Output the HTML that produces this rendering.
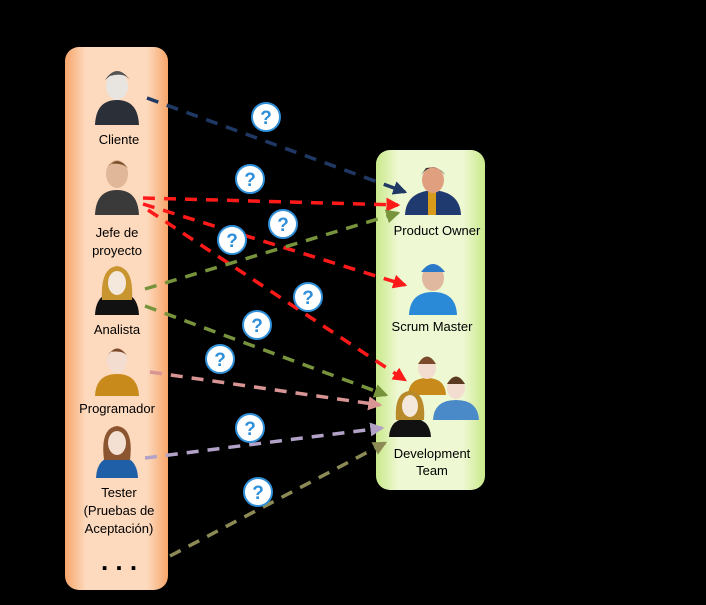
<!DOCTYPE html>
<html><head><style>
body{margin:0;background:#000;}
svg text{font-family:"Liberation Sans",sans-serif;}
</style></head><body>
<svg width="706" height="600" viewBox="0 0 706 600" xmlns="http://www.w3.org/2000/svg">
<defs>
<linearGradient id="lg" x1="0" x2="1"><stop offset="0" stop-color="#f7a56a"/><stop offset="0.2" stop-color="#fdd9bd"/><stop offset="0.8" stop-color="#fdd9bd"/><stop offset="1" stop-color="#f7a56a"/></linearGradient>
<linearGradient id="gg" x1="0" x2="1"><stop offset="0" stop-color="#c9e98a"/><stop offset="0.2" stop-color="#eef8d2"/><stop offset="0.8" stop-color="#eef8d2"/><stop offset="1" stop-color="#c9e98a"/></linearGradient>
<marker id="a1" viewBox="0 0 6 6" markerWidth="4" markerHeight="4" refX="5" refY="3" orient="auto" markerUnits="strokeWidth"><path d="M0,0L6,3L0,6z" fill="#1f3864"/></marker>
<marker id="a2" viewBox="0 0 6 6" markerWidth="4" markerHeight="4" refX="5" refY="3" orient="auto" markerUnits="strokeWidth"><path d="M0,0L6,3L0,6z" fill="#ff1a1a"/></marker>
<marker id="a3" viewBox="0 0 6 6" markerWidth="4" markerHeight="4" refX="5" refY="3" orient="auto" markerUnits="strokeWidth"><path d="M0,0L6,3L0,6z" fill="#77933c"/></marker>
<marker id="a4" viewBox="0 0 6 6" markerWidth="4" markerHeight="4" refX="5" refY="3" orient="auto" markerUnits="strokeWidth"><path d="M0,0L6,3L0,6z" fill="#d99594"/></marker>
<marker id="a5" viewBox="0 0 6 6" markerWidth="4" markerHeight="4" refX="5" refY="3" orient="auto" markerUnits="strokeWidth"><path d="M0,0L6,3L0,6z" fill="#b3a2c7"/></marker>
<marker id="a6" viewBox="0 0 6 6" markerWidth="4" markerHeight="4" refX="5" refY="3" orient="auto" markerUnits="strokeWidth"><path d="M0,0L6,3L0,6z" fill="#8c8a55"/></marker>
</defs>
<rect x="65" y="47" width="103" height="543" rx="14" fill="url(#lg)"/>
<rect x="376" y="150" width="109" height="340" rx="14" fill="url(#gg)"/>
<g fill="none" stroke-width="3.5" stroke-dasharray="12,9">
<line x1="147" y1="98" x2="405" y2="192" stroke="#1f3864" marker-end="url(#a1)"/>
<line x1="143" y1="198" x2="398" y2="205" stroke="#ff1a1a" marker-end="url(#a2)"/>
<line x1="143" y1="204" x2="405" y2="285" stroke="#ff1a1a" marker-end="url(#a2)"/>
<line x1="148" y1="210" x2="405" y2="380" stroke="#ff1a1a" marker-end="url(#a2)"/>
<line x1="145" y1="289" x2="398" y2="213" stroke="#77933c" marker-end="url(#a3)"/>
<line x1="145" y1="306" x2="386" y2="395" stroke="#77933c" marker-end="url(#a3)"/>
<line x1="150" y1="372" x2="380" y2="405" stroke="#d99594" marker-end="url(#a4)"/>
<line x1="145" y1="458" x2="382" y2="428" stroke="#b3a2c7" marker-end="url(#a5)"/>
<line x1="170" y1="556" x2="385" y2="443" stroke="#8c8a55" marker-end="url(#a6)"/>
</g>
<g fill="#fff" stroke="#2f8fd8" stroke-width="2">
<circle cx="266" cy="117" r="14"/><circle cx="250" cy="179" r="14"/><circle cx="283" cy="224" r="14"/><circle cx="232" cy="240" r="14"/><circle cx="308" cy="297" r="14"/><circle cx="257" cy="325" r="14"/><circle cx="220" cy="359" r="14"/><circle cx="250" cy="428" r="14"/><circle cx="258" cy="492" r="14"/>
</g>
<g fill="#2f8fd8" font-size="19" font-weight="bold" text-anchor="middle">
<text x="266" y="124">?</text><text x="250" y="186">?</text><text x="283" y="231">?</text><text x="232" y="247">?</text><text x="308" y="304">?</text><text x="257" y="332">?</text><text x="220" y="366">?</text><text x="250" y="435">?</text><text x="258" y="499">?</text>
</g>
<g>
<path d="M95,125 Q96,100 117,100 Q138,100 139,125z" fill="#2b2f38"/><ellipse cx="117" cy="86" rx="11" ry="14" fill="#e8e4e0"/><path d="M105,80 Q117,62 130,80 Q124,72 110,76z" fill="#555"/>
<path d="M95,215 Q96,190 117,190 Q138,190 139,215z" fill="#3a3a3a"/><ellipse cx="117" cy="174" rx="11" ry="14" fill="#e0b899"/><path d="M106,170 Q117,152 129,170 Q124,162 110,164z" fill="#7a4f2a"/>
<path d="M95,315 Q96,292 117,292 Q138,292 139,315z" fill="#111"/><path d="M102,300 Q100,268 117,266 Q134,268 132,300z" fill="#c89531"/><ellipse cx="117" cy="283" rx="9" ry="12" fill="#f4e8dc"/>
<path d="M95,396 Q96,374 117,374 Q138,374 139,396z" fill="#c98a1c"/><ellipse cx="117" cy="361" rx="10" ry="12" fill="#f2ddd0"/><path d="M107,357 Q117,340 128,357 Q124,350 110,352z" fill="#7a4a2a"/>
<path d="M96,478 Q97,456 117,456 Q137,456 138,478z" fill="#1f5fa8"/><path d="M104,460 Q100,428 117,426 Q134,428 130,460z" fill="#8a5530"/><ellipse cx="117" cy="443" rx="9" ry="12" fill="#f3e0d2"/>
<path d="M405,215 Q406,192 433,190 Q460,192 461,215z" fill="#1f3a6e"/><rect x="428" y="192" width="8" height="23" fill="#d79a1a"/><ellipse cx="433" cy="180" rx="11" ry="13" fill="#e0a080"/><path d="M421,175 Q433,160 445,175 Q440,166 426,168z" fill="#333"/>
<path d="M409,315 Q410,292 433,292 Q456,292 457,315z" fill="#2a8ad8"/><ellipse cx="433" cy="278" rx="11" ry="13" fill="#e0b8a0"/><path d="M421,272 Q433,256 445,272z" fill="#2a78c8"/>
<path d="M408,395 Q409,378 427,378 Q445,378 446,395z" fill="#c98a1c"/><ellipse cx="427" cy="368" rx="9" ry="11" fill="#f2ddd0"/><path d="M418,364 Q427,349 436,364z" fill="#7a4a2a"/>
<path d="M433,420 Q434,400 456,400 Q478,400 479,420z" fill="#4a8ac8"/><ellipse cx="456" cy="388" rx="9" ry="11" fill="#f2ddd0"/><path d="M447,384 Q456,369 465,384z" fill="#5a3a20"/>
<path d="M389,437 Q390,418 410,418 Q430,418 431,437z" fill="#111"/><path d="M396,420 Q394,392 410,391 Q426,392 424,420z" fill="#b88a2a"/><ellipse cx="410" cy="406" rx="8" ry="11" fill="#f4e8dc"/>
</g>
<g font-size="13" fill="#000" text-anchor="middle">
<text x="119" y="144">Cliente</text>
<text x="117" y="237">Jefe de</text><text x="117" y="255">proyecto</text>
<text x="117" y="334">Analista</text>
<text x="117" y="413">Programador</text>
<text x="119" y="497">Tester</text><text x="119" y="515">(Pruebas de</text><text x="119" y="533">Aceptación)</text>
<text x="119" y="570" font-size="26" font-weight="bold">. . .</text>
<text x="437" y="235">Product Owner</text>
<text x="432" y="331">Scrum Master</text>
<text x="432" y="458">Development</text><text x="432" y="475">Team</text>
</g>
</svg>
</body></html>
